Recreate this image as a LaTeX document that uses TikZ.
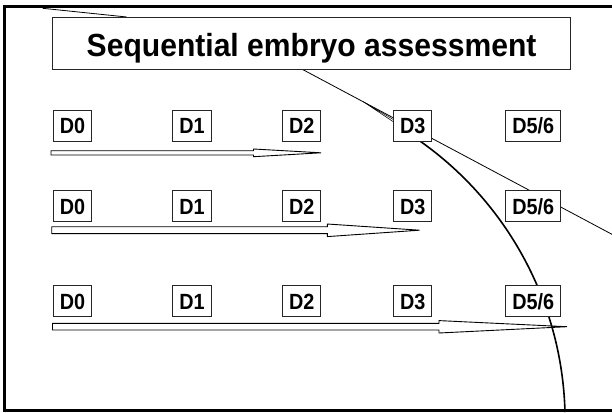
\documentclass[tikz,border=0pt]{standalone}
\usepackage{fontspec}
\setmainfont{Liberation Sans}
\newfontfamily\labelfont[FakeStretch=0.9]{Liberation Sans}
\newfontfamily\headfont[FakeStretch=0.94]{Liberation Sans}
\begin{document}
\begin{tikzpicture}[x=1pt,y=-1pt,
  frame/.style={line width=2.2pt},
  thinline/.style={line width=0.8pt},
  arcline/.style={line width=1.6pt},
  arrowbody/.style={draw,line width=0.9pt,fill=white,line join=miter},
  daybox/.style={draw=black!85,line width=0.9pt,fill=white,inner xsep=6.4pt,inner ysep=0pt,
    minimum height=31pt,text height=16.6pt,text depth=0pt,
    font=\labelfont\fontsize{22}{26}\selectfont\bfseries},
  titlebox/.style={draw=black!85,line width=0.9pt,fill=white,minimum width=518pt,
    minimum height=52pt,inner sep=0pt,text height=26.5pt,text depth=0pt,
    font=\headfont\fontsize{32}{38}\selectfont\bfseries}]
\useasboundingbox (0,0) rectangle (612,412);

% slide frame, open on the right
\draw[frame] (614,6.5) -- (4.5,6.5) -- (4.5,410.5) -- (614,410.5);

% time-line arrows
\draw[arrowbody] (51,150.7) -- (253.5,150.7) -- (253.5,149) -- (321,152.8)
  -- (253.5,156.7) -- (253.5,155) -- (51,155) -- cycle;
\draw[arrowbody] (51.7,226.7) -- (327.3,226.7) -- (327.3,224) -- (419.5,230.2)
  -- (327.3,236.6) -- (327.3,233.6) -- (51.7,233.6) -- cycle;
\draw[arrowbody] (52.5,323.3) -- (439,323.3) -- (439,320.6) -- (567,326.7)
  -- (439,333) -- (439,330) -- (52.5,330) -- cycle;

% stray guide lines
\coordinate (tlA) at (42.7,8.3);
\coordinate (tlB) at (126.7,17);
\draw[thinline] (tlA) -- (tlB);

\coordinate (callA) at (301.7,69);
\coordinate (callB) at (614,235.4);
\coordinate (fanA) at (363,101.6);
\coordinate (fanB) at (393.4,119.6);
\coordinate (fanC) at (393.4,121.8);
\draw[thinline] (callA) -- (callB);
\draw[line width=0.5pt] (fanA) -- (fanB) (fanA) -- (fanC);

% circular arc sweeping down to the bottom edge
\coordinate (arcA) at (411.1,135);
\draw[arcline] (arcA) arc[start angle=-56.6, end angle=-1.5, radius=342.6];

% title
\node[titlebox] (title) at (311.6,43) {Sequential embryo assessment};

% row 1
\node[daybox] (a0) at (72.6,125.5) {D0};
\node[daybox] (a1) at (192,125.5) {D1};
\node[daybox] (a2) at (301.7,125.5) {D2};
\node[daybox] (a3) at (412.8,125.5) {D3};
\node[daybox] (a5) at (533.2,125.5) {D5/6};

% row 2
\node[daybox] (b0) at (72.6,205.8) {D0};
\node[daybox] (b1) at (192,205.8) {D1};
\node[daybox] (b2) at (301.7,205.8) {D2};
\node[daybox] (b3) at (412.8,205.8) {D3};
\node[daybox] (b5) at (533.2,205.8) {D5/6};

% row 3
\node[daybox] (c0) at (72.6,300.8) {D0};
\node[daybox] (c1) at (192,300.8) {D1};
\node[daybox] (c2) at (301.7,300.8) {D2};
\node[daybox] (c3) at (412.8,300.8) {D3};
\node[daybox] (c5) at (533.2,300.8) {D5/6};
\end{tikzpicture}
\end{document}
